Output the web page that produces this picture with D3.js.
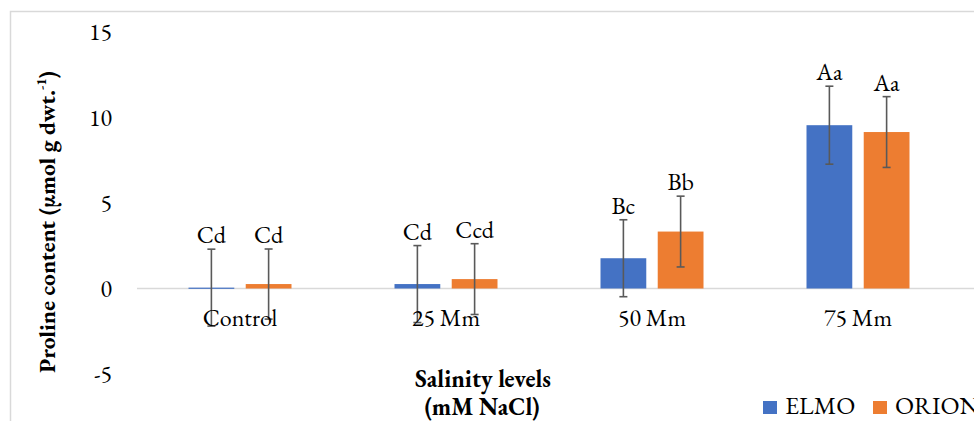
<!DOCTYPE html>
<html>
<head>
<meta charset="utf-8">
<script src="https://cdn.jsdelivr.net/npm/d3@7"></script>
<style>
  html, body { margin: 0; padding: 0; background: #fff; overflow: hidden; }
  svg { display: block; }
</style>
</head>
<body>
<svg id="chart" width="974" height="421"></svg>
<script>
// Salinity treatments and the two cultivars
const categories = ["Control", "25 Mm", "50 Mm", "75 Mm"];
const seriesNames = ["ELMO", "ORION"];

// Mean proline content per treatment
const elmoValues = [0.05, 0.26, 1.77, 9.55];
const orionValues = [0.26, 0.55, 3.33, 9.15];

// Error bar half-lengths
const elmoErrors = [2.25, 2.25, 2.25, 2.28];
const orionErrors = [2.05, 2.07, 2.07, 2.07];

// Significance letters
const elmoLetters = ["Cd", "Cd", "Bc", "Aa"];
const orionLetters = ["Cd", "Ccd", "Bb", "Aa"];

const yTicks = [-5, 0, 5, 10, 15];

const colors = { ELMO: "#4472C4", ORION: "#ED7D31" };
const FONT = '"EB Garamond", "Liberation Serif", serif';

const svg = d3.select("#chart");

// Chart area frame (extends beyond the visible canvas on the right and bottom)
svg.append("rect")
  .attr("x", 10.5).attr("y", 11.5)
  .attr("width", 1000).attr("height", 500)
  .attr("fill", "#fff")
  .attr("stroke", "#d9d9d9").attr("stroke-width", 1.5);

const x0 = d3.scaleBand().domain(categories).range([137, 961])
  .paddingInner(0.5).paddingOuter(0.25);
const x1 = d3.scaleBand().domain(seriesNames).range([0, x0.bandwidth()])
  .paddingInner(0.2);
const y = d3.scaleLinear().domain([-5, 15]).range([374, 32]);

const data = categories.map((c, i) => ({
  category: c,
  items: [
    { series: "ELMO", value: elmoValues[i], err: elmoErrors[i], letter: elmoLetters[i] },
    { series: "ORION", value: orionValues[i], err: orionErrors[i], letter: orionLetters[i] }
  ]
}));

// Y axis tick labels (no axis line)
const yAxis = d3.axisLeft(y).tickValues(yTicks).tickSize(0).tickPadding(0)
  .tickFormat(d => d < 0 ? "-" + Math.abs(d) : String(d));
const yg = svg.append("g").attr("transform", "translate(112,0)").call(yAxis);
yg.select(".domain").remove();
yg.selectAll("text")
  .style("font-family", FONT)
  .style("font-size", "24px").attr("fill", "#000");

// Zero baseline
svg.append("line")
  .attr("x1", 137).attr("x2", 974)
  .attr("y1", y(0)).attr("y2", y(0))
  .attr("stroke", "#d9d9d9").attr("stroke-width", 1.5);

const groups = svg.append("g").selectAll("g")
  .data(data).join("g")
  .attr("transform", d => `translate(${x0(d.category)},0)`);

// Bars
groups.selectAll("rect")
  .data(d => d.items).join("rect")
  .attr("x", d => x1(d.series))
  .attr("width", x1.bandwidth())
  .attr("y", d => y(Math.max(0, d.value)))
  .attr("height", d => Math.max(1.2, Math.abs(y(d.value) - y(0))))
  .attr("fill", d => colors[d.series]);

// Category labels
svg.append("g").selectAll("text")
  .data(categories).join("text")
  .attr("x", d => x0(d) + x0.bandwidth() / 2)
  .attr("y", 326)
  .attr("text-anchor", "middle")
  .style("font-family", FONT).style("font-size", "24px")
  .attr("fill", "#000")
  .text(d => d);

// Error bars
const eb = groups.selectAll("g.err")
  .data(d => d.items).join("g").attr("class", "err");
const cx = d => x1(d.series) + x1.bandwidth() / 2;
eb.append("line")
  .attr("x1", cx).attr("x2", cx)
  .attr("y1", d => y(d.value + d.err)).attr("y2", d => y(d.value - d.err))
  .attr("stroke", "#595959").attr("stroke-width", 1.6);
eb.append("line")
  .attr("x1", d => cx(d) - 4).attr("x2", d => cx(d) + 4)
  .attr("y1", d => y(d.value + d.err)).attr("y2", d => y(d.value + d.err))
  .attr("stroke", "#595959").attr("stroke-width", 1.6);
eb.append("line")
  .attr("x1", d => cx(d) - 4).attr("x2", d => cx(d) + 4)
  .attr("y1", d => y(d.value - d.err)).attr("y2", d => y(d.value - d.err))
  .attr("stroke", "#595959").attr("stroke-width", 1.6);

// Significance letters
groups.selectAll("text.letter")
  .data(d => d.items).join("text").attr("class", "letter")
  .attr("x", cx)
  .attr("y", d => y(d.value + d.err) - 6)
  .attr("text-anchor", "middle")
  .style("font-family", FONT).style("font-size", "24px")
  .attr("fill", "#000")
  .text(d => d.letter);

// Y axis title
const yt = svg.append("text")
  .attr("transform", "translate(55,222) rotate(-90)")
  .attr("text-anchor", "middle")
  .style("font-family", FONT).style("font-size", "23.5px")
  .attr("font-weight", "bold")
  .attr("fill", "#000");
yt.append("tspan").text("Proline content (µmol g dwt.");
yt.append("tspan").attr("dy", -9).style("font-size", "14px").text("-1");
yt.append("tspan").attr("dy", 9).text(")");

// X axis title
svg.append("text")
  .attr("x", 483).attr("y", 387)
  .attr("text-anchor", "middle")
  .style("font-family", FONT).style("font-size", "24px")
  .attr("font-weight", "bold").attr("fill", "#000")
  .text("Salinity levels");
svg.append("text")
  .attr("x", 482).attr("y", 415)
  .attr("text-anchor", "middle")
  .style("font-family", FONT).style("font-size", "24px")
  .attr("font-weight", "bold").attr("fill", "#000")
  .text("(mM NaCl)");

// Legend
const legend = svg.append("g").selectAll("g")
  .data(seriesNames).join("g")
  .attr("transform", (d, i) => `translate(${763 + i * 110},401)`);
legend.append("rect")
  .attr("width", 14).attr("height", 13)
  .attr("fill", d => colors[d]);
legend.append("text")
  .attr("x", 22).attr("y", 13)
  .style("font-family", FONT).style("font-size", "25px")
  .attr("fill", "#000")
  .text(d => d);
</script>
</body>
</html>
